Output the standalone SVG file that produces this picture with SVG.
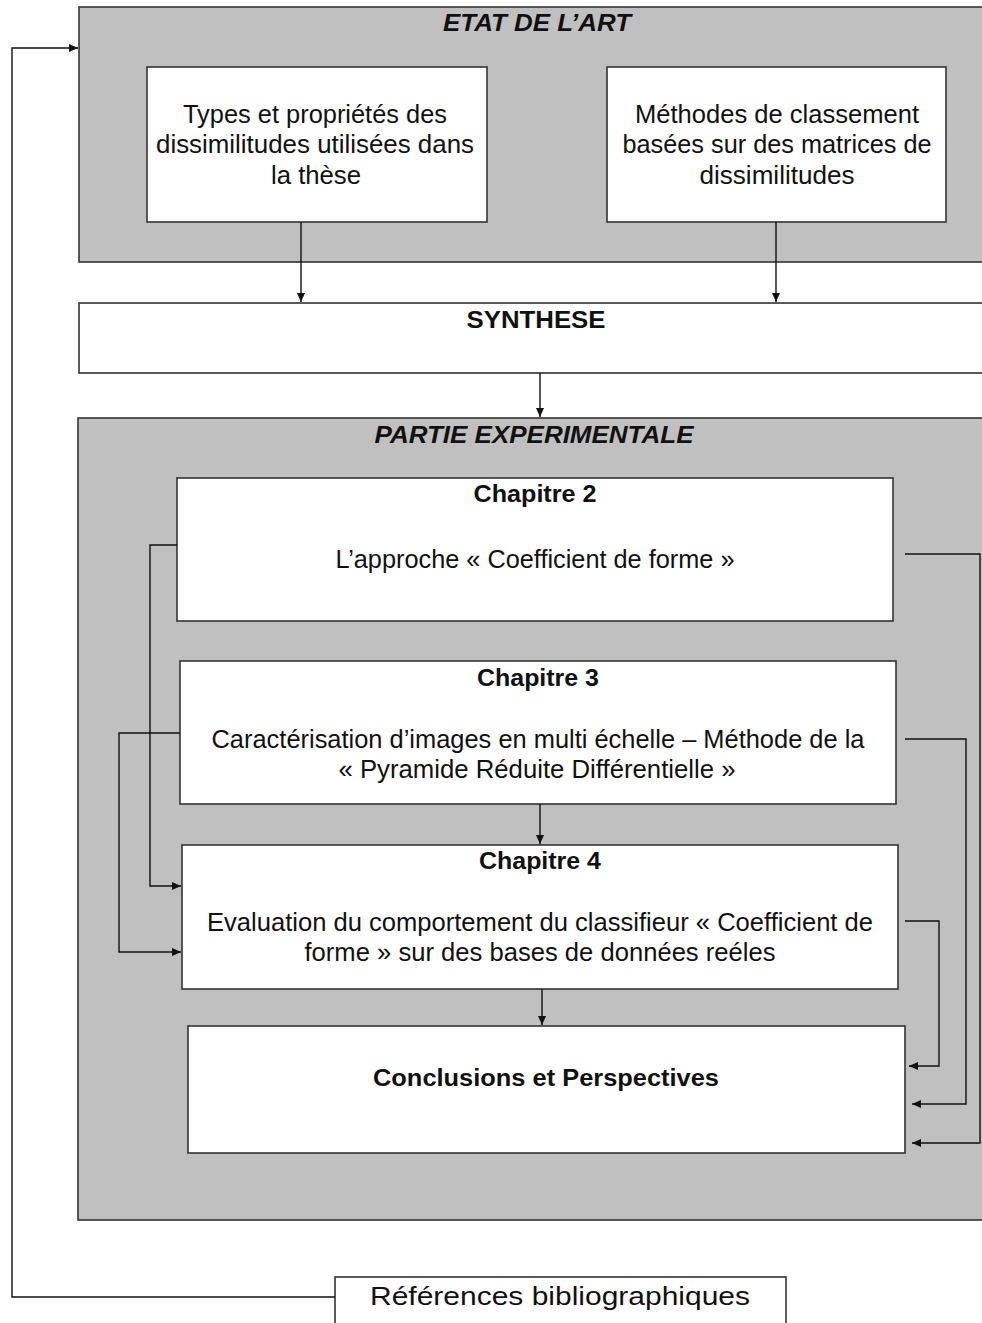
<svg xmlns="http://www.w3.org/2000/svg" width="982" height="1323" viewBox="0 0 982 1323">
<defs>
<marker id="arr" markerUnits="userSpaceOnUse" markerWidth="10" markerHeight="8" refX="9" refY="4" orient="auto">
<path d="M0,0 L9,4 L0,8 Z" fill="#111"/>
</marker>
<style>
.grp{fill:#c0c0c0;stroke:#333;stroke-width:1.6}
.box{fill:#fff;stroke:#333;stroke-width:1.6}
.t{font-family:"Liberation Sans",Arial,sans-serif;font-size:25px;fill:#111;text-anchor:middle}
.b{font-family:"Liberation Sans",Arial,sans-serif;font-size:23px;font-weight:bold;fill:#111;text-anchor:middle}
.bi{font-family:"Liberation Sans",Arial,sans-serif;font-size:23px;font-weight:bold;font-style:italic;fill:#111;text-anchor:middle}
.c{fill:none;stroke:#111;stroke-width:1.4}
</style>
</defs>
<rect width="982" height="1323" fill="#fff"/>

<g id="etat">
<rect class="grp" x="79" y="7" width="920" height="255"/>
<text class="bi" x="537" y="31" textLength="188" lengthAdjust="spacingAndGlyphs">ETAT DE L’ART</text>
</g>
<g id="types">
<rect class="box" x="147" y="67" width="340" height="155"/>
<text class="t" x="315" y="123" textLength="264" lengthAdjust="spacingAndGlyphs">Types et propriétés des</text>
<text class="t" x="315" y="153" textLength="318" lengthAdjust="spacingAndGlyphs">dissimilitudes utilisées dans</text>
<text class="t" x="316" y="184" textLength="90" lengthAdjust="spacingAndGlyphs">la thèse</text>
</g>
<g id="methodes">
<rect class="box" x="607" y="67" width="339" height="155"/>
<text class="t" x="777" y="123" textLength="284" lengthAdjust="spacingAndGlyphs">Méthodes de classement</text>
<text class="t" x="777" y="153" textLength="309" lengthAdjust="spacingAndGlyphs">basées sur des matrices de</text>
<text class="t" x="777" y="184" textLength="155" lengthAdjust="spacingAndGlyphs">dissimilitudes</text>
</g>
<g id="synthese">
<rect class="box" x="79" y="303" width="920" height="70"/>
<text class="b" x="536" y="328" textLength="139" lengthAdjust="spacingAndGlyphs">SYNTHESE</text>
</g>
<g id="partie">
<rect class="grp" x="78" y="418" width="921" height="802"/>
<text class="bi" x="534" y="443" textLength="319" lengthAdjust="spacingAndGlyphs">PARTIE EXPERIMENTALE</text>
</g>
<g id="chap2">
<rect class="box" x="177" y="478" width="716" height="143"/>
<text class="b" x="535" y="502" textLength="123" lengthAdjust="spacingAndGlyphs">Chapitre 2</text>
<text class="t" x="535" y="568" textLength="399" lengthAdjust="spacingAndGlyphs">L’approche « Coefficient de forme »</text>
</g>
<g id="chap3">
<rect class="box" x="180" y="661" width="716" height="143"/>
<text class="b" x="538" y="686" textLength="122" lengthAdjust="spacingAndGlyphs">Chapitre 3</text>
<text class="t" x="538" y="748" textLength="653" lengthAdjust="spacingAndGlyphs">Caractérisation d’images en multi échelle – Méthode de la</text>
<text class="t" x="537" y="778" textLength="397" lengthAdjust="spacingAndGlyphs">« Pyramide Réduite Différentielle »</text>
</g>
<g id="chap4">
<rect class="box" x="182" y="845" width="716" height="144"/>
<text class="b" x="540" y="869" textLength="122" lengthAdjust="spacingAndGlyphs">Chapitre 4</text>
<text class="t" x="540" y="931" textLength="666" lengthAdjust="spacingAndGlyphs">Evaluation du comportement du classifieur « Coefficient de</text>
<text class="t" x="540" y="961" textLength="471" lengthAdjust="spacingAndGlyphs">forme » sur des bases de données reéles</text>
</g>
<g id="conclusions">
<rect class="box" x="188" y="1026" width="717" height="127"/>
<text class="b" x="546" y="1086" textLength="346" lengthAdjust="spacingAndGlyphs">Conclusions et Perspectives</text>
</g>
<g id="references">
<rect class="box" x="335" y="1277" width="451" height="60"/>
<text class="t" x="560" y="1305" font-size="28" textLength="380" lengthAdjust="spacingAndGlyphs">Références bibliographiques</text>
</g>

<g id="connectors">
<path class="c" d="M301,222 V302" marker-end="url(#arr)"/>
<path class="c" d="M776,222 V302" marker-end="url(#arr)"/>
<path class="c" d="M540,373 V417" marker-end="url(#arr)"/>
<path class="c" d="M540,804 V844" marker-end="url(#arr)"/>
<path class="c" d="M542,989 V1025" marker-end="url(#arr)"/>
<path class="c" d="M177,545 H150 V886 H181" marker-end="url(#arr)"/>
<path class="c" d="M180,733 H119 V952 H181" marker-end="url(#arr)"/>
<path class="c" d="M905,554 H980 V1143 H912" marker-end="url(#arr)"/>
<path class="c" d="M905,739 H966 V1104 H912" marker-end="url(#arr)"/>
<path class="c" d="M905,921 H939 V1066 H909" marker-end="url(#arr)"/>
<path class="c" d="M335,1297 H12 V48 H78" marker-end="url(#arr)"/>
</g>
</svg>
